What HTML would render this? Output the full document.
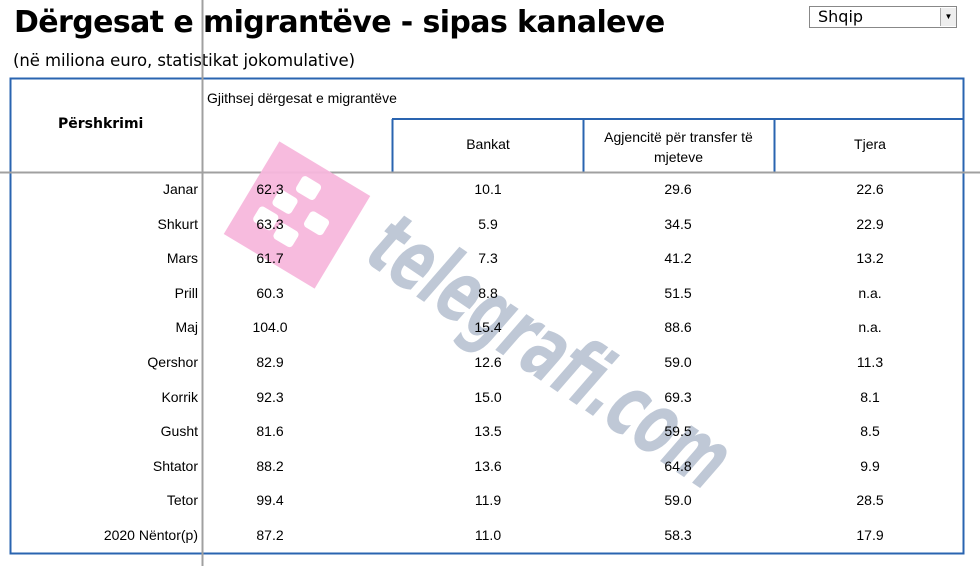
<!DOCTYPE html>
<html><head><meta charset="utf-8"><style>
body{margin:0;width:980px;height:566px;background:#fff;position:relative;overflow:hidden;font-family:"Liberation Sans",sans-serif;}
.a{position:absolute;white-space:nowrap;}
.t{font-size:14px;color:#000;}
.c{text-align:center;width:120px;margin-left:-60px;}
.r{text-align:right;width:190px;}
</style></head><body>
<div class="a" style="left:14px;top:5px;font-size:30px;font-weight:bold;font-family:'DejaVu Sans',sans-serif;letter-spacing:-0.6px;">Dërgesat e migrantëve - sipas kanaleve</div>
<div class="a" style="left:13px;top:51px;font-size:16.5px;font-family:'DejaVu Sans',sans-serif;letter-spacing:-0.07px;">(në miliona euro, statistikat jokomulative)</div>
<div class="a" style="left:809px;top:6px;width:148px;height:22px;border:1px solid #888;box-sizing:border-box;font-size:16px;font-family:'DejaVu Sans',sans-serif;padding-left:8px;line-height:20px;">Shqip</div>
<div class="a" style="left:940px;top:8px;width:15px;height:18px;background:#eee;border-left:1px solid #aaa;font-size:8px;text-align:center;line-height:18px;">▼</div>

<svg class="a" style="left:0;top:0" width="980" height="566">
<rect x="10.5" y="78.5" width="953" height="475" fill="none" stroke="#2a64b0" stroke-width="2"/>
<path d="M392 119 H963 M392.5 119 V172 M583.5 119 V172 M774.5 119 V172" stroke="#2a64b0" stroke-width="2" fill="none"/>
<line x1="0" y1="172.5" x2="980" y2="172.5" stroke="#a0a0a0" stroke-width="2"/>
<line x1="202.5" y1="0" x2="202.5" y2="566" stroke="#a0a0a0" stroke-width="2"/>
<g transform="translate(297,215) rotate(31)">
<rect x="-53" y="-54" width="106" height="108" fill="#f7b7dc" opacity="0.95"/>
<rect x="-15" y="-38" width="22" height="18" rx="4" fill="#fff"/>
<rect x="-28" y="-14" width="22" height="18" rx="4" fill="#fff"/>
<rect x="-36" y="10" width="22" height="18" rx="4" fill="#fff"/>
<rect x="-10" y="14" width="22" height="18" rx="4" fill="#fff"/>
<rect x="10" y="-12" width="22" height="18" rx="4" fill="#fff"/>
</g>
<text transform="translate(362,260) rotate(34)" font-family="'DejaVu Sans Condensed','DejaVu Sans',sans-serif" font-weight="bold" font-style="italic" font-size="86" fill="#b4bfcf" opacity="0.85" textLength="415" lengthAdjust="spacingAndGlyphs">telegrafi.com</text>
</svg>

<div class="a t" style="left:207px;top:90px;">Gjithsej dërgesat e migrantëve</div>
<div class="a" style="left:58px;top:116px;font-size:14px;font-weight:bold;font-family:'DejaVu Sans',sans-serif;">Përshkrimi</div>
<div class="a t c" style="left:488px;top:136px;">Bankat</div>
<div class="a t" style="left:588px;top:127px;width:181px;text-align:center;white-space:normal;line-height:20px;">Agjencitë për transfer të mjeteve</div>
<div class="a t c" style="left:870px;top:136px;">Tjera</div>

<div id="rows"></div>
<script>
var d=[["Janar","62.3","10.1","29.6","22.6"],["Shkurt","63.3","5.9","34.5","22.9"],["Mars","61.7","7.3","41.2","13.2"],["Prill","60.3","8.8","51.5","n.a."],["Maj","104.0","15.4","88.6","n.a."],["Qershor","82.9","12.6","59.0","11.3"],["Korrik","92.3","15.0","69.3","8.1"],["Gusht","81.6","13.5","59.5","8.5"],["Shtator","88.2","13.6","64.8","9.9"],["Tetor","99.4","11.9","59.0","28.5"],["2020 Nëntor(p)","87.2","11.0","58.3","17.9"]];
var h="",xs=[270,488,678,870];
d.forEach(function(r,i){var y=181+i*34.6;
h+='<div class="a t r" style="left:8px;top:'+y+'px">'+r[0]+'</div>';
for(var j=1;j<5;j++)h+='<div class="a t c" style="left:'+xs[j-1]+'px;top:'+y+'px">'+r[j]+'</div>';});
document.getElementById("rows").innerHTML=h;
</script>
</body></html>
